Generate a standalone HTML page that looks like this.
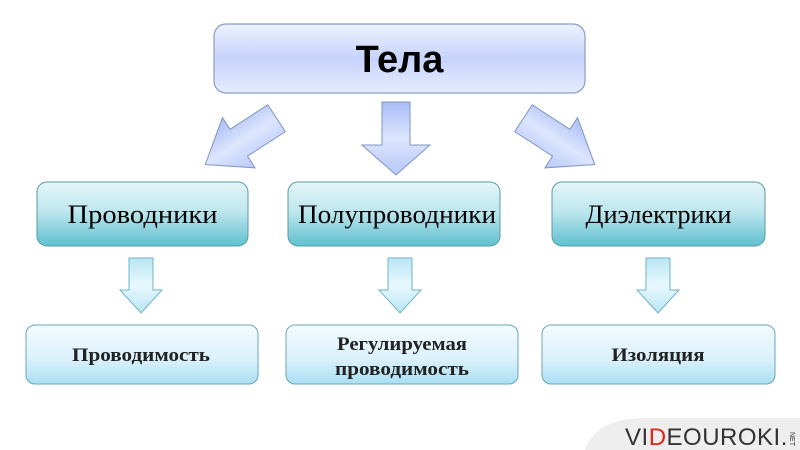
<!DOCTYPE html>
<html><head><meta charset="utf-8"><style>body{margin:0;background:#fff}svg{display:block}</style></head><body>
<svg width="800" height="450" xmlns="http://www.w3.org/2000/svg">
<defs>
<linearGradient id="top" x1="0" y1="0" x2="0" y2="1"><stop offset="0" stop-color="#eef2fe"/><stop offset="0.5" stop-color="#c6d3fb"/><stop offset="1" stop-color="#e6ecfd"/></linearGradient>
<linearGradient id="mid" x1="0" y1="0" x2="0" y2="1"><stop offset="0" stop-color="#e4f6f8"/><stop offset="0.45" stop-color="#bfe7ee"/><stop offset="1" stop-color="#5fc0d0"/></linearGradient>
<linearGradient id="bot" x1="0" y1="0" x2="0" y2="1"><stop offset="0" stop-color="#f4fbfe"/><stop offset="0.6" stop-color="#d9f1fb"/><stop offset="1" stop-color="#a9dff3"/></linearGradient>
<linearGradient id="arr" x1="0" y1="0" x2="0" y2="1"><stop offset="0" stop-color="#a9bdf6"/><stop offset="0.5" stop-color="#dde6fd"/><stop offset="1" stop-color="#b6c8f8"/></linearGradient>
<linearGradient id="arr2" x1="0" y1="0" x2="0" y2="1"><stop offset="0" stop-color="#b9e6f4"/><stop offset="0.5" stop-color="#e8f8fd"/><stop offset="1" stop-color="#b9e6f4"/></linearGradient>
</defs>
<rect x="214" y="24" width="371" height="69" rx="12" fill="url(#top)" stroke="#8a9cc8" stroke-width="1.2"/>
<text x="399.5" y="72" font-family="Liberation Sans, sans-serif" font-weight="bold" font-size="38" text-anchor="middle">Тела</text>
<polygon points="382,102 410,102 410,145 430,145 396,175 362,145 382,145" fill="url(#arr)" stroke="#7f93c6"/>
<g transform="translate(243,140) rotate(-33)"><polygon points="0,-16 45,-16 45,16 0,16 0,30 -40,0 0,-30" transform="translate(-5,0)" fill="url(#arr)" stroke="#7f93c6"/></g>
<g transform="translate(557,140) rotate(33)"><polygon points="0,-16 -45,-16 -45,16 0,16 0,30 40,0 0,-30" transform="translate(5,0)" fill="url(#arr)" stroke="#7f93c6"/></g>
<g font-family="Liberation Serif, serif" font-size="26" text-anchor="middle">
<rect x="37" y="182" width="211" height="64" rx="10" fill="url(#mid)" stroke="#5a9aa6"/>
<text x="142.5" y="223" textLength="150" lengthAdjust="spacingAndGlyphs">Проводники</text>
<rect x="288" y="182" width="212" height="64" rx="10" fill="url(#mid)" stroke="#5a9aa6"/>
<text x="397" y="223" textLength="198" lengthAdjust="spacingAndGlyphs">Полупроводники</text>
<rect x="552" y="182" width="213" height="64" rx="10" fill="url(#mid)" stroke="#5a9aa6"/>
<text x="658.5" y="223" textLength="146" lengthAdjust="spacingAndGlyphs">Диэлектрики</text>
</g>
<g fill="url(#arr2)" stroke="#6fb3c6">
<polygon points="129,258 153,258 153,290 162,290 141,313 120,290 129,290"/>
<polygon points="388,258 412,258 412,290 421,290 400,313 379,290 388,290"/>
<polygon points="646,258 670,258 670,290 679,290 658,313 637,290 646,290"/>
</g>
<g font-family="Liberation Serif, serif" font-size="19" font-weight="bold" text-anchor="middle" fill="#222">
<rect x="26" y="325" width="232" height="59" rx="9" fill="url(#bot)" stroke="#6aa6b6"/>
<text x="141" y="361" textLength="138" lengthAdjust="spacingAndGlyphs">Проводимость</text>
<rect x="286" y="325" width="232" height="59" rx="9" fill="url(#bot)" stroke="#6aa6b6"/>
<text x="402" y="350" textLength="130" lengthAdjust="spacingAndGlyphs">Регулируемая</text>
<text x="402" y="375" textLength="134" lengthAdjust="spacingAndGlyphs">проводимость</text>
<rect x="542" y="325" width="233" height="59" rx="9" fill="url(#bot)" stroke="#6aa6b6"/>
<text x="658" y="361" textLength="93" lengthAdjust="spacingAndGlyphs">Изоляция</text>
</g>
<path d="M585,450 Q595,420 640,418 L800,418 L800,450 Z" fill="#eeeeee"/>
<text x="625" y="445" font-family="Liberation Sans, sans-serif" font-size="24" fill="#333" letter-spacing="0.5">VI<tspan fill="#e2231a">D</tspan>EOUROKI.</text>
<text x="790" y="432" font-family="Liberation Sans, sans-serif" font-size="7" fill="#333" transform="rotate(90 790 432)">NET</text>
</svg>
</body></html>
